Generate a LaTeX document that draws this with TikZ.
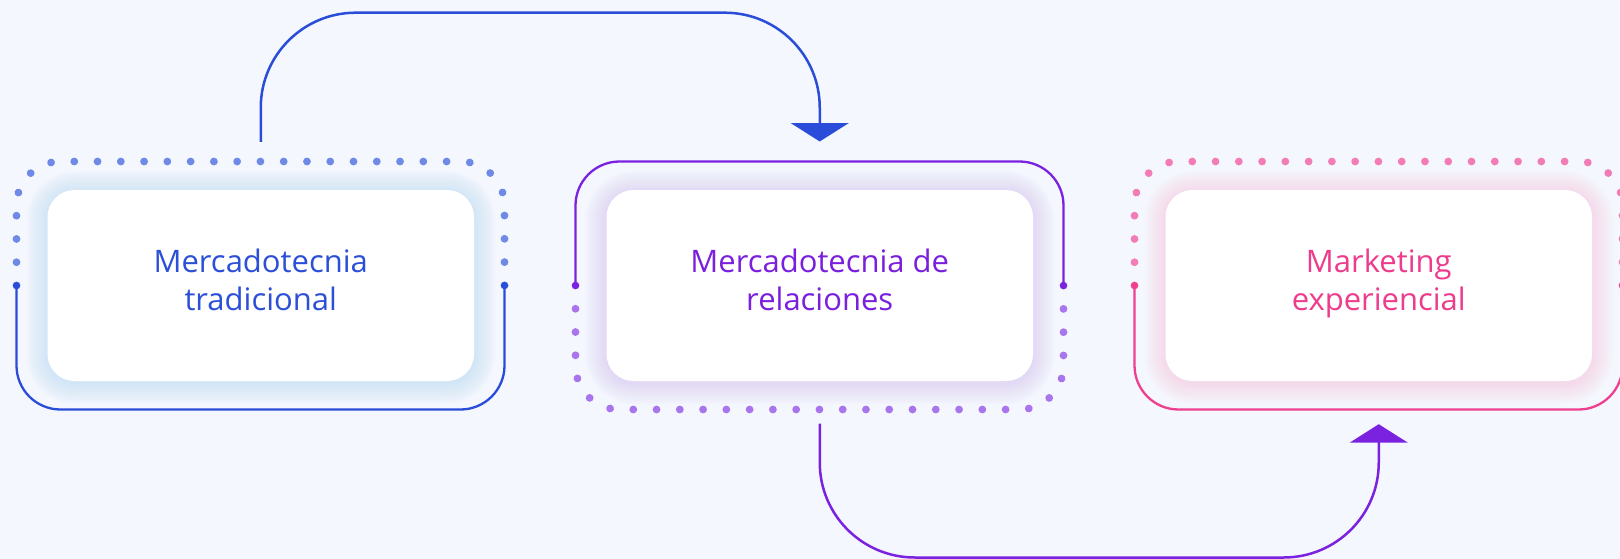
\documentclass[tikz,border=0pt]{standalone}
\usepackage{fontspec}
\setmainfont{Open Sans}
\usetikzlibrary{arrows.meta,calc,decorations.markings}
\definecolor{bg}{HTML}{F4F7FE}
\definecolor{blueLine}{HTML}{2A4DD9}
\definecolor{blueDot}{HTML}{6E8AE6}
\definecolor{blueText}{HTML}{2C4FD8}
\definecolor{blueGlow}{HTML}{B9DAF7}
\definecolor{purLine}{HTML}{7B22E0}
\definecolor{purDot}{HTML}{A875EC}
\definecolor{purText}{HTML}{7A1FDD}
\definecolor{purGlow}{HTML}{D6C4F5}
\definecolor{pinkLine}{HTML}{EF3F8F}
\definecolor{pinkDot}{HTML}{F27DB6}
\definecolor{pinkText}{HTML}{EE3C8C}
\definecolor{pinkGlow}{HTML}{F4C6DE}
\tikzset{
  box/.style={rectangle, rounded corners=27pt, fill=white, draw=none,
    minimum width=426.5pt, minimum height=191pt, inner sep=0pt},
  label/.style={anchor=base, align=center, inner sep=0pt,
    font=\fontsize{31}{38}\selectfont},
  dotframe/.style={rounded corners=44pt, decorate, decoration={markings,
    mark=between positions 0 and 1 step 23.27pt with {\fill[#1] (0,0) circle (3.9pt);}}},
  solidline/.style={line width=2.3pt, rounded corners=44pt},
  conn/.style={line width=2.5pt, rounded corners=95pt,
    -{Triangle[width=57.6pt,length=18.4pt]}}
}
\begin{document}
\begin{tikzpicture}[x=1pt,y=-1pt]
\useasboundingbox (0,0) rectangle (1620,559);
\fill[bg] (0,0) rectangle (1620,559);

% glows
\foreach \L/\g in {16.5/blueGlow, 575.5/purGlow, 1134.5/pinkGlow} {
  \foreach \k in {1,...,14} {
    \pgfmathsetmacro\rr{27+1.5*\k}
    \fill[\g, fill opacity=0.045, rounded corners=\rr pt]
      (\L+31-1.5*\k, 190-1.5*\k+2) rectangle (\L+457.5+1.5*\k, 381+1.5*\k+2);
  }
}

% boxes
\node[box] (b1) at (260.75,285.5) {};
\node[box] (b2) at (819.75,285.5) {};
\node[box] (b3) at (1378.75,285.5) {};

% frame 1 (blue): top dotted, bottom solid
\path[dotframe=blueDot] (16.5,285.5) -- (16.5,161.5) -- (504.5,161.5) -- (504.5,285.5);
\draw[blueLine, solidline] (16.5,285.5) -- (16.5,409.5) -- (504.5,409.5) -- (504.5,285.5);
\fill[blueLine] (16.5,285.5) circle (3.6) (504.5,285.5) circle (3.6);

% frame 2 (purple): top solid, bottom dotted
\path[dotframe=purDot] (575.5,285.5) -- (575.5,409.5) -- (1063.5,409.5) -- (1063.5,285.5);
\draw[purLine, solidline] (575.5,285.5) -- (575.5,161.5) -- (1063.5,161.5) -- (1063.5,285.5);
\fill[purLine] (575.5,285.5) circle (3.6) (1063.5,285.5) circle (3.6);

% frame 3 (pink): top dotted, bottom solid
\path[dotframe=pinkDot] (1134.5,285.5) -- (1134.5,161.5) -- (1622.5,161.5) -- (1622.5,285.5);
\draw[pinkLine, solidline] (1134.5,285.5) -- (1134.5,409.5) -- (1622.5,409.5) -- (1622.5,285.5);
\fill[pinkLine] (1134.5,285.5) circle (3.6) (1622.5,285.5) circle (3.6);

% labels (base anchor = baseline of last line)
\node[label, text=blueText] (t1) at (260.75,310.5) {Mercadotecnia\\tradicional};
\node[label, text=purText] (t2) at (819.75,310.5) {Mercadotecnia de\\relaciones};
\node[label, text=pinkText] (t3) at (1378.75,310.5) {Marketing\\experiencial};

% connectors
\coordinate (s1) at ($(b1.north)+(0,-48)$);
\coordinate (e1) at ($(b2.north)+(0,-48.3)$);
\coordinate (topy) at (0,12.7);
\draw[conn, blueLine] (s1) -- (s1 |- topy) -- (e1 |- topy) -- (e1);

\coordinate (s2) at ($(b2.south)+(0,42.5)$);
\coordinate (e2) at ($(b3.south)+(0,43)$);
\coordinate (boty) at (0,557.5);
\draw[conn, purLine] (s2) -- (s2 |- boty) -- (e2 |- boty) -- (e2);
\end{tikzpicture}
\end{document}
